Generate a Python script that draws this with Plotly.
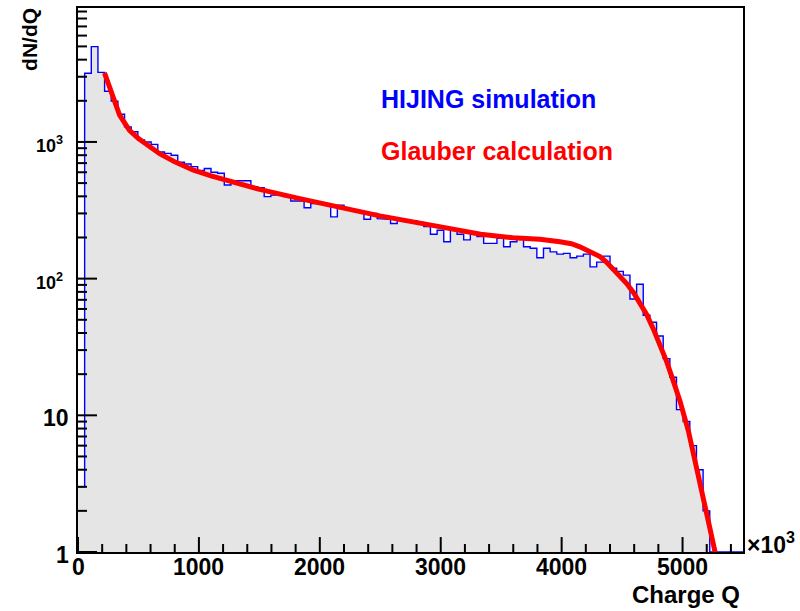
import math
import plotly.graph_objects as go

# ---------------- data ----------------
bin_width = 55.0
n_bins = 100
counts = [3, 3180, 4980, 3230, 2350, 1990, 1595, 1290, 1187, 1035,
          1000, 960, 845, 825, 800, 710, 690, 660, 620, 640,
          600, 590, 484, 520, 520, 520, 470, 462, 398, 408,
          408, 398, 370, 370, 330, 355, 355, 345, 283, 345,
          325, 315, 308, 272, 300, 275, 272, 253, 268, 262,
          265, 258, 240, 211, 226, 186, 226, 211, 192, 211,
          203, 181, 181, 197, 171, 186, 197, 171, 167, 142,
          167, 157, 151, 153, 142, 146, 151, 122, 132, 146,
          119, 113, 106, 71, 91, 54, 48, 38, 26, 19,
          11, 9, 6, 4, 2, 0, 0, 0, 0, 0]

glauber_q = [219, 261, 302, 344, 399, 426, 500, 592, 675, 800, 950, 1100,
             1254, 1502, 1834, 2200, 2496, 3000, 3330, 3597, 3820, 3986,
             4080, 4151, 4210, 4262, 4317, 4370, 4425, 4480, 4538, 4595,
             4648, 4704, 4760, 4814, 4870, 4924, 4979, 5048, 5120, 5200,
             5269]
glauber_v = [3200, 2510, 2065, 1570, 1320, 1215, 1060, 918, 820, 715, 624,
             565, 520, 450, 385, 328, 288, 239, 211, 199, 194, 186,
             180, 171, 162, 153, 145, 132, 118, 105, 92, 79,
             66, 54.5, 42.5, 32.9, 24.5, 17.8, 12.7, 7.7, 4.1, 1.9,
             1.0]

x_major = [0, 1000, 2000, 3000, 4000, 5000]
x_major_text = ["0", "1000", "2000", "3000", "4000", "5000"]
x_minor = [200, 400, 600, 800, 1200, 1400, 1600, 1800, 2200, 2400, 2600,
           2800, 3200, 3400, 3600, 3800, 4200, 4400, 4600, 4800, 5200, 5400]
y_major = [1, 10, 100, 1000]
y_major_text = ["1", "10", "10<sup>2</sup>", "10<sup>3</sup>"]
y_minor = [2, 3, 4, 5, 6, 7, 8, 9, 20, 30, 40, 50, 60, 70, 80, 90,
           200, 300, 400, 500, 600, 700, 800, 900,
           2000, 3000, 4000, 5000, 6000, 7000, 8000, 9000]

# ---------------- geometry ----------------
W, H = 800, 611
ML, MR, MT, MB = 78, 57, 6, 59
PW, PH = W - ML - MR, H - MT - MB
YMIN = 1.0
YTOP_LOG = 3.98
XMAX = 5500.0
FONT = "Liberation Sans, Arial, Helvetica, sans-serif"
PX_PER_DEC = PH / YTOP_LOG
PX_PER_X = PW / XMAX


def pxx(px):
    return (px - ML) / PW


def pxy(py):
    return (H - MB - py) / PH


def ylog_paper(v):
    return math.log10(v) / YTOP_LOG


# step outline from bins
sx, sy = [0.0], [YMIN]
for i, c in enumerate(counts):
    v = c if c > 0 else YMIN
    sx += [i * bin_width, (i + 1) * bin_width]
    sy += [v, v]
sx.append(n_bins * bin_width)
sy.append(YMIN)

fig = go.Figure()
fig.add_trace(go.Scatter(x=sx, y=sy, mode="lines", fill="toself",
                         fillcolor="#e5e5e5", line=dict(width=0, color="#e5e5e5"),
                         hoverinfo="skip", showlegend=False))
fig.add_trace(go.Scatter(x=sx[1:-1], y=sy[1:-1], mode="lines",
                         line=dict(color="#0000ff", width=1.4),
                         name="HIJING simulation", showlegend=False))
fig.add_trace(go.Scatter(x=glauber_q, y=glauber_v, mode="lines",
                         line=dict(color="#ff0000", width=5),
                         name="Glauber calculation", showlegend=False))

# tick marks (ROOT style, inside, bottom and left only)
tx, ty = [], []
for v, ln in [(v, 15) for v in x_major] + [(v, 8) for v in x_minor]:
    tx += [v, v, None]
    ty += [YMIN, YMIN * 10 ** (ln / PX_PER_DEC), None]
for v, ln in [(v, 19) for v in y_major] + [(v, 9) for v in y_minor]:
    tx += [0, ln / PX_PER_X, None]
    ty += [v, v, None]
fig.add_trace(go.Scatter(x=tx, y=ty, mode="lines",
                         line=dict(color="black", width=2),
                         hoverinfo="skip", showlegend=False))

fig.update_layout(
    width=W, height=H,
    margin=dict(l=ML, r=MR, t=MT, b=MB, pad=0),
    paper_bgcolor="white", plot_bgcolor="white",
    xaxis=dict(range=[0, XMAX], showticklabels=False, ticks="",
               showline=True, linecolor="black", linewidth=2, mirror=True,
               showgrid=False, zeroline=False),
    yaxis=dict(type="log", range=[0, YTOP_LOG], showticklabels=False, ticks="",
               showline=True, linecolor="black", linewidth=2, mirror=True,
               showgrid=False, zeroline=False),
)

ann = []
bold = dict(family=FONT, color="black", weight=700)
for v, t in zip(x_major, x_major_text):
    ann.append(dict(text=t, x=v, xref="x", y=pxy(567), yref="paper",
                    xanchor="center", yanchor="middle", showarrow=False,
                    font=dict(size=23, **bold)))
for v, t in zip(y_major, y_major_text):
    yc = (H - MB) - ylog_paper(v) * PH + 3
    right = 71 if v < 100 else 65
    ann.append(dict(text=t, x=pxx(right), xref="paper", y=pxy(yc), yref="paper",
                    xanchor="right", yanchor="middle", showarrow=False,
                    font=dict(size=(23 if v < 100 else 18), **bold)))
ann.append(dict(text="HIJING simulation", x=pxx(379), y=pxy(97), xref="paper",
                yref="paper", xanchor="left", yanchor="middle", showarrow=False,
                font=dict(family=FONT, size=25, color="#0000ff", weight=700)))
ann.append(dict(text="Glauber calculation", x=pxx(379), y=pxy(149.5),
                xref="paper", yref="paper", xanchor="left", yanchor="middle",
                showarrow=False,
                font=dict(family=FONT, size=25, color="#ff0000", weight=700)))
ann.append(dict(text="Charge Q", x=pxx(742), y=pxy(595), xref="paper",
                yref="paper", xanchor="right", yanchor="middle", showarrow=False,
                font=dict(size=24, **bold)))
ann.append(dict(text="\u00d710<sup>3</sup>", x=pxx(745), y=pxy(543),
                xref="paper", yref="paper", xanchor="left", yanchor="middle",
                showarrow=False, font=dict(size=23, **bold)))
ann.append(dict(text="dN/dQ", x=pxx(30), y=pxy(38), xref="paper", yref="paper",
                xanchor="center", yanchor="middle", showarrow=False,
                textangle=-90, font=dict(size=21, **bold)))
fig.update_layout(annotations=ann)

fig.write_html("out.html")
